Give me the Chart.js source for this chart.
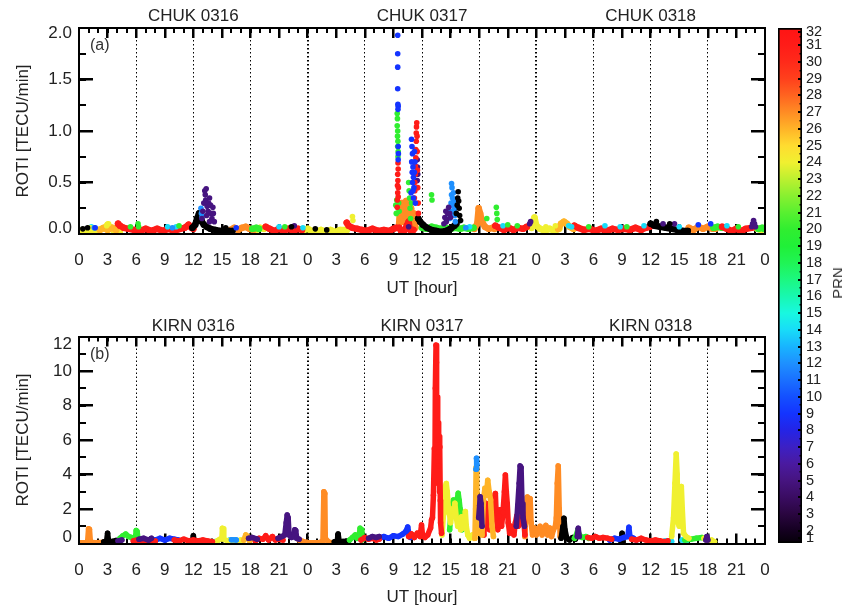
<!DOCTYPE html>
<html>
<head>
<meta charset="utf-8">
<script src="https://cdn.jsdelivr.net/npm/chart.js@4.4.1/dist/chart.umd.min.js"></script>
<style>
body { margin: 0; background: #fff; }
#wrap { position: relative; width: 842px; height: 610px; overflow: hidden; }
canvas { position: absolute; }
.lab { position: absolute; font: 16px "Liberation Sans", Arial, sans-serif; line-height: 18px; color: #333; }
#prn { left: 838px; top: 283px; font-size: 15px; transform: translate(-50%, -50%) rotate(-90deg); }
</style>
</head>
<body>
<div id="wrap">
  <canvas id="chuk" width="842" height="300" style="left:0;top:0"></canvas>
  <canvas id="kirn" width="842" height="310" style="left:0;top:300px"></canvas>
  <canvas id="cbar" width="72" height="610" style="left:770px;top:0"></canvas>
  <div class="lab" style="left:90px;top:36px">(a)</div>
  <div class="lab" style="left:90px;top:345px">(b)</div>
  <div class="lab" id="prn">PRN</div>
</div>
<script>
// ---- tick labels ----
var xTickVals = [0, 3, 6, 9, 12, 15, 18, 21, 24, 27, 30, 33, 36, 39, 42, 45, 48, 51, 54, 57, 60, 63, 66, 69, 72];
var xTickLabels = ['0', '3', '6', '9', '12', '15', '18', '21', '0', '3', '6', '9', '12', '15', '18', '21', '0', '3', '6', '9', '12', '15', '18', '21', '0'];
var dayCentres = [12, 36, 60];
var chukDays = ['CHUK 0316', 'CHUK 0317', 'CHUK 0318'];
var kirnDays = ['KIRN 0316', 'KIRN 0317', 'KIRN 0318'];
var chukYTickVals = [0.058, 0.5, 1.0, 1.5, 1.947];
var chukYTickLabels = ['0.0', '0.5', '1.0', '1.5', '2.0'];
var kirnYTickVals = [0.38, 2, 4, 6, 8, 10, 11.55];
var kirnYTickLabels = ['0', '2', '4', '6', '8', '10', '12'];
var cbTickVals = [1.57, 2, 3, 4, 5, 6, 7, 8, 9, 10, 11, 12, 13, 14, 15, 16, 17, 18, 19, 20, 21, 22, 23, 24, 25, 26, 27, 28, 29, 30, 31, 31.8];
var cbTickLabels = ['1', '2', '3', '4', '5', '6', '7', '8', '9', '10', '11', '12', '13', '14', '15', '16', '17', '18', '19', '20', '21', '22', '23', '24', '25', '26', '27', '28', '29', '30', '31', '32'];

// ---- CHUK ROTI, [UT hour from 0316 00UT, ROTI]; null breaks an arc ----
var chukP24 = [[0, 0.02], [0.4, 0.04], [0.8, 0.02], [1.2, 0.04], [1.6, 0.02], [2.0, 0.04], [2.4, 0.05], [2.8, 0.06], [3.0, 0.09], [3.2, 0.07], [3.6, 0.04], [4.1, 0.03], [4.3, 0.03], [4.3, null],
  [18.6, 0.04], [19.0, 0.06], [19.4, 0.05], [19.6, null],
  [23.6, 0.04], [24.0, 0.05], [24.4, 0.03], [24.9, 0.02], [25.4, 0.04], [25.9, 0.02], [26.4, 0.04], [26.9, 0.02], [27.4, 0.04], [27.9, 0.04], [28.1, 0.04], [28.1, null],
  [47.5, 0.06], [47.7, 0.12], [47.8, 0.16], [48.0, 0.08], [48.4, 0.05], [48.9, 0.03], [49.4, 0.05], [49.9, 0.03], [50.4, 0.05], [50.4, null],
  [71.2, 0.05], [71.6, 0.04], [72, 0.06]];
var chukP24dots = [[28.7, 0.17], [28.75, 0.13], [1.2, 0.06], [3.1, 0.1], [2.9, 0.08], [49.0, 0.07], [50.0, 0.08]];
var chukP26 = [[2.2, 0.04], [2.6, 0.06], [3.0, 0.04], [3.5, 0.06], [3.9, 0.04], [3.9, null],
  [50.3, 0.05], [50.6, 0.1], [50.9, 0.12], [51.2, 0.1], [51.5, 0.07], [51.9, 0.05]];
var chukP27 = [[15.9, 0.04], [16.3, 0.06], [16.7, 0.04], [17.1, 0.06], [17.5, 0.07], [17.9, 0.05], [18.3, 0.04], [18.3, null],
  [33.6, 0.1], [33.7, 0.25], [33.8, 0.15], [33.9, 0.3], [34.0, 0.12], [34.1, 0.28], [34.2, 0.18], [34.35, 0.32], [34.5, 0.2], [34.6, 0.3], [34.7, 0.12], [34.85, 0.25], [35.0, 0.1], [35.15, 0.2], [35.3, 0.06], [35.3, null],
  [41.5, 0.05], [41.8, 0.1], [41.95, 0.25], [42.1, 0.2], [42.3, 0.12], [42.6, 0.07], [43.0, 0.05], [43.4, 0.06], [43.6, 0.05], [43.6, null],
  [64.0, 0.06], [64.5, 0.04], [65.0, 0.07], [65.5, 0.05], [66.0, 0.07], [66.5, 0.05], [66.8, 0.05]];
var chukP20 = [[36.0, 0.06], [36.5, 0.05], [37.0, 0.07], [37.5, 0.06], [38.0, 0.05], [38.5, 0.06], [39.0, 0.05], [39.5, 0.06], [40.0, 0.05], [40.4, 0.06], [40.9, 0.05], [41.4, 0.06], [41.4, null],
  [18.2, 0.05], [18.6, 0.06], [18.9, 0.05], [18.9, null],
  [66.6, 0.06], [67.0, 0.07], [67.5, 0.06], [67.5, null],
  [71.3, 0.05], [71.7, 0.06], [71.9, 0.05]];
var chukP31 = [[4.1, 0.1], [4.3, 0.08], [4.7, 0.06], [5.2, 0.05], [5.8, 0.04], [6.4, 0.03], [7.0, 0.05], [7.6, 0.03], [8.2, 0.05], [8.8, 0.03], [9.4, 0.05], [10.0, 0.03], [10.6, 0.05], [11.1, 0.06], [11.5, 0.09], [11.8, 0.06], [12.0, 0.05], [12.0, null],
  [19.6, 0.07], [20.0, 0.05], [20.5, 0.03], [21.0, 0.05], [21.5, 0.03], [22.0, 0.05], [22.5, 0.03], [23.0, 0.05], [23.4, 0.04], [23.4, null],
  [28.1, 0.11], [28.3, 0.08], [28.7, 0.06], [29.2, 0.05], [29.7, 0.04], [30.2, 0.03], [30.8, 0.05], [31.4, 0.03], [32.0, 0.04], [32.6, 0.03], [33.0, 0.05], [33.3, 0.06], [33.3, null],
  [33.6, 0.06], [33.8, 0.03], [34.0, 0.02], [34.2, 0.04], [34.4, 0.08], [34.6, 0.12], [34.7, 0.05], [34.9, 0.02], [35.1, 0.04], [35.1, null],
  [43.7, 0.08], [44.1, 0.06], [44.6, 0.04], [45.1, 0.06], [45.6, 0.04], [46.1, 0.06], [46.6, 0.05], [47.0, 0.07], [47.0, null],
  [52.0, 0.08], [52.4, 0.06], [53.0, 0.04], [53.6, 0.05], [54.2, 0.03], [54.8, 0.05], [55.4, 0.03], [56.0, 0.05], [56.6, 0.04], [57.2, 0.05], [57.8, 0.04], [58.4, 0.06], [59.0, 0.04], [59.5, 0.06], [59.9, 0.07], [59.9, null],
  [67.5, 0.07], [68.0, 0.05], [68.5, 0.03], [69.0, 0.05], [69.5, 0.03], [70.0, 0.05], [70.6, 0.06]];
var chukP1 = [[11.9, 0.06], [12.2, 0.09], [12.4, 0.15], [12.6, 0.2], [12.75, 0.17], [12.9, 0.12], [13.1, 0.09], [13.4, 0.07], [13.8, 0.05], [14.3, 0.04], [14.8, 0.03], [15.3, 0.03], [15.8, 0.03], [16.1, 0.03], [16.1, null],
  [35.6, 0.15], [35.8, 0.12], [36.1, 0.09], [36.5, 0.06], [37.0, 0.04], [37.5, 0.03], [38.0, 0.02], [38.5, 0.03], [39.0, 0.05], [39.4, 0.08], [39.6, 0.1], [39.6, null],
  [60.0, 0.1], [60.4, 0.08], [61.0, 0.07], [61.6, 0.06], [62.2, 0.05], [62.8, 0.04], [63.4, 0.03], [63.9, 0.03]];
var chukP14dots = [[1.3, 0.07], [9.3, 0.07], [10.2, 0.07], [21.0, 0.07], [23.5, 0.06], [41.0, 0.07], [44.5, 0.08], [51.4, 0.08], [51.7, 0.07], [55.2, 0.08], [56.8, 0.07], [59.3, 0.08], [63.0, 0.07], [68.0, 0.08]];
var chukP20dots = [[33.4, 1.17], [33.42, 1.12], [33.4, 1.05], [33.45, 1.0], [33.43, 0.95], [33.47, 0.9], [33.45, 0.85], [33.5, 0.8], [33.48, 0.75], [33.55, 0.3], [33.3, 0.2], [33.25, 0.28], [33.35, 0.33], [33.6, 0.22],
  [34.6, 0.5], [34.65, 0.42], [34.7, 0.35], [34.75, 0.25], [34.8, 0.15], [34.9, 0.3],
  [37.0, 0.38], [37.05, 0.33], [43.8, 0.26], [43.85, 0.2], [43.9, 0.14], [6.2, 0.1], [6.25, 0.07], [42.8, 0.15],
  [5.4, 0.07], [10.5, 0.08], [21.6, 0.07], [45.0, 0.09], [46.0, 0.08], [53.5, 0.07], [57.5, 0.07], [69.2, 0.07]];
var chukP12dots = [[12.8, 0.25], [12.85, 0.2], [12.9, 0.16],
  [38.9, 0.15], [39.0, 0.22], [39.05, 0.3], [39.1, 0.38], [39.15, 0.45], [39.1, 0.49], [39.2, 0.35], [39.25, 0.28], [39.3, 0.4], [39.35, 0.32], [39.4, 0.24], [39.45, 0.18], [39.5, 0.12], [39.2, 0.2],
  [1.6, 0.06], [9.8, 0.06], [40.6, 0.06]];
var chukP5dots = [[12.9, 0.15], [13.0, 0.22], [13.1, 0.3], [13.2, 0.42], [13.25, 0.38], [13.35, 0.44], [13.3, 0.33], [13.45, 0.27], [13.55, 0.22], [13.6, 0.3], [13.7, 0.35], [13.8, 0.28], [13.85, 0.2], [13.95, 0.15], [14.05, 0.26], [14.1, 0.2], [14.2, 0.12], [13.4, 0.18], [13.7, 0.12],
  [35.5, 0.72], [35.52, 0.65], [35.55, 0.58], [35.5, 0.52],
  [38.3, 0.1], [38.4, 0.16], [38.5, 0.22], [38.6, 0.14], [38.7, 0.2], [38.8, 0.26], [38.9, 0.2], [39.0, 0.16], [38.55, 0.12],
  [47.3, 0.1], [47.4, 0.12], [61.3, 0.1], [62.5, 0.1], [22.6, 0.08], [34.6, 0.07],
  [70.6, 0.07], [70.7, 0.1], [70.8, 0.13], [70.9, 0.1], [71.0, 0.07]];
var chukP1dots = [[39.6, 0.2], [39.7, 0.28], [39.75, 0.35], [39.8, 0.41], [39.85, 0.32], [39.9, 0.25], [39.95, 0.18], [40.05, 0.13],
  [0.9, 0.06], [0.4, 0.05], [22.3, 0.07], [24.8, 0.05], [26.0, 0.04], [15.4, 0.06], [60.6, 0.12], [62.0, 0.1]];
var chukP31dots = [[33.4, 0.26], [33.42, 0.33], [33.45, 0.4], [33.43, 0.47], [33.47, 0.52], [33.45, 0.58], [33.5, 0.63], [33.48, 0.69], [33.52, 0.45], [33.5, 0.36],
  [35.2, 0.35], [35.25, 0.42], [35.25, 0.5], [35.3, 0.58], [35.3, 0.66], [35.35, 0.74], [35.35, 0.82], [35.4, 0.9], [35.4, 0.98], [35.42, 1.04], [35.45, 1.08], [35.48, 0.95], [35.5, 0.8], [35.52, 0.62], [35.55, 0.45], [35.6, 0.3], [35.62, 0.2]];
var chukP9dots = [[33.45, 1.93], [33.45, 1.75], [33.45, 1.62], [33.45, 1.41], [33.47, 1.26], [33.5, 1.24], [33.48, 1.21], [33.5, 0.85], [33.52, 0.78], [33.5, 0.72],
  [34.9, 0.92], [34.95, 0.85], [35.0, 0.78], [34.92, 0.7], [35.05, 0.65], [34.97, 0.6], [35.1, 0.55], [35.0, 0.5], [35.15, 0.45], [35.05, 0.42], [35.2, 0.6], [35.25, 0.7], [35.2, 0.8], [35.1, 0.35], [35.3, 0.3], [34.85, 0.4],
  [65.0, 0.09], [66.3, 0.1], [1.7, 0.06], [16.5, 0.06]];

// ---- KIRN ROTI ----
var kirnP27 = [[0, 0.05], [0.5, 0.04], [0.9, 0.06], [1.0, 0.85], [1.1, 0.82], [1.2, 0.08], [1.7, 0.05], [2.4, 0.06], [2.4, null],
  [23.1, 0.2], [23.5, 0.12], [24.0, 0.06], [24.6, 0.05], [25.2, 0.05], [25.6, 0.15], [25.7, 3.0], [25.8, 2.9], [25.85, 0.3], [26.2, 0.08], [26.6, 0.05], [26.6, null],
  [46.8, 0.4], [46.9, 1.8], [47.05, 2.7], [47.2, 2.4], [47.35, 2.6], [47.45, 1.2], [47.6, 0.5], [47.8, 0.9], [48.0, 0.5], [48.2, 0.7], [48.4, 1.0], [48.6, 0.5], [48.8, 0.7], [49.0, 1.05], [49.2, 0.5], [49.4, 0.9], [49.6, 0.4], [49.8, 0.8], [50.0, 1.0], [50.1, 1.5], [50.2, 3.5], [50.3, 4.5], [50.4, 2.0], [50.5, 0.4]];
var kirnP1 = [[2.6, 0.1], [2.9, 0.15], [3.0, 0.6], [3.1, 0.15], [3.5, 0.12], [3.9, 0.18], [4.3, 0.15], [4.3, null],
  [11.9, 0.1], [12.0, 0.45], [12.1, 0.1], [12.1, null],
  [26.8, 0.1], [27.1, 0.15], [27.2, 0.55], [27.3, 0.15], [27.7, 0.12], [28.3, 0.15], [28.3, null],
  [50.6, 0.3], [50.8, 1.0], [50.9, 1.46], [51.0, 0.8], [51.2, 0.3], [51.5, 0.2], [51.8, 0.35], [52.1, 0.25], [52.1, null],
  [56.9, 0.1], [57.0, 0.6], [57.1, 0.1]];
var kirnP20 = [[4.3, 0.3], [4.6, 0.45], [4.9, 0.55], [5.2, 0.4], [5.5, 0.35], [5.7, 0.3], [5.7, null],
  [5.9, 0.2], [6.0, 0.75], [6.1, 0.7], [6.2, 0.2], [6.2, null],
  [28.4, 0.2], [28.7, 0.35], [29.0, 0.5], [29.2, 0.3], [29.4, 0.4], [29.5, 0.88], [29.6, 0.8], [29.7, 0.2], [29.7, null],
  [38.9, 0.8], [39.05, 1.8], [39.2, 2.3], [39.3, 2.52], [39.4, 2.0], [39.5, 1.6], [39.65, 2.4], [39.8, 2.91], [39.9, 2.5], [40.0, 2.0], [40.1, 1.2], [40.2, 0.8], [40.2, null],
  [52.0, 0.3], [52.2, 0.5], [52.35, 0.78], [52.5, 0.5], [52.8, 0.35], [53.2, 0.4], [53.5, 0.3], [53.5, null],
  [63.6, 0.2], [64.2, 0.25], [64.8, 0.3], [65.4, 0.35], [65.9, 0.25]];
var kirnP31 = [[5.7, 0.15], [6.1, 0.2], [6.5, 0.1], [7.0, 0.2], [7.5, 0.15], [8.0, 0.15], [8.0, null],
  [10.0, 0.2], [10.5, 0.15], [11.0, 0.25], [11.5, 0.15], [12.0, 0.2], [12.5, 0.15], [13.0, 0.2], [13.5, 0.15], [14.0, 0.1], [14.0, null],
  [18.5, 0.15], [18.9, 0.3], [19.3, 0.25], [19.6, 0.45], [19.9, 0.2], [20.3, 0.4], [20.6, 0.2], [21.0, 0.25], [21.4, 0.2], [21.4, null],
  [29.6, 0.2], [30.0, 0.35], [30.4, 0.25], [30.8, 0.3], [31.2, 0.2], [31.5, 0.25], [31.5, null],
  [34.6, 0.4], [34.9, 0.55], [35.2, 0.35], [35.5, 0.6], [35.8, 0.4], [35.95, 1.07], [36.05, 0.5], [36.3, 0.35], [36.6, 0.5], [36.9, 0.9], [37.0, 1.36], [37.1, 1.5], [37.2, 2.8], [37.3, 5.5], [37.35, 3.5], [37.4, 9.0], [37.47, 11.5], [37.52, 10.5], [37.55, 6.0], [37.6, 8.5], [37.65, 5.0], [37.7, 7.0], [37.75, 4.5], [37.8, 6.2], [37.84, 3.0], [37.88, 5.6], [37.92, 2.5], [37.95, 1.2], [38.05, 0.6], [38.05, null],
  [42.5, 0.5], [42.6, 1.5], [42.7, 2.33], [42.8, 1.2], [42.95, 1.8], [43.1, 0.8], [43.25, 1.6], [43.4, 2.0], [43.55, 2.6], [43.7, 2.9], [43.8, 1.5], [43.95, 0.8], [44.1, 1.6], [44.2, 1.96], [44.35, 1.0], [44.5, 1.8], [44.65, 3.0], [44.75, 3.97], [44.85, 3.0], [44.95, 2.3], [45.05, 1.2], [45.2, 0.6], [45.35, 1.0], [45.5, 0.97], [45.65, 0.5], [45.8, 1.2], [45.95, 1.6], [46.1, 1.0], [46.4, 1.4], [46.55, 1.8], [46.7, 1.2], [46.8, 0.5], [46.8, null],
  [53.4, 0.35], [53.8, 0.3], [54.2, 0.4], [54.6, 0.3], [55.0, 0.35], [55.5, 0.3], [55.9, 0.25], [55.9, null],
  [58.0, 0.25], [58.5, 0.2], [59.0, 0.3], [59.5, 0.2], [60.0, 0.15], [60.5, 0.2], [61.0, 0.15], [61.5, 0.1], [61.8, 0.15]];
var kirnP24 = [[14.5, 0.15], [14.8, 0.25], [15.0, 0.3], [15.05, 0.88], [15.15, 0.85], [15.2, 0.25], [15.6, 0.15], [16.0, 0.2], [16.5, 0.15], [17.0, 0.2], [17.2, 0.15], [17.2, null],
  [38.1, 0.5], [38.3, 2.0], [38.45, 3.3], [38.55, 3.48], [38.65, 3.0], [38.8, 1.8], [38.9, 1.65], [39.0, 1.2], [39.15, 2.0], [39.3, 1.6], [39.45, 2.33], [39.6, 1.5], [39.75, 1.0], [39.9, 1.4], [40.05, 0.8], [40.15, 1.55], [40.3, 0.9], [40.45, 1.3], [40.55, 1.85], [40.65, 1.0], [40.8, 0.5], [41.0, 0.3], [41.3, 0.5], [41.5, 0.3], [41.5, null],
  [62.2, 0.4], [62.4, 1.5], [62.55, 3.5], [62.68, 5.19], [62.78, 4.0], [62.88, 1.2], [63.0, 1.0], [63.12, 2.5], [63.22, 3.3], [63.32, 2.0], [63.45, 0.6], [63.7, 0.4], [64.0, 0.3], [64.0, null],
  [65.6, 0.3], [66.0, 0.15], [66.4, 0.2], [66.7, 0.1]];
var kirnP26 = [[17.3, 0.2], [17.5, 0.5], [17.7, 0.4], [17.9, 0.15], [17.9, null],
  [41.55, 0.3], [41.62, 2.0], [41.68, 4.4], [41.75, 3.0], [41.85, 0.6], [41.85, null],
  [42.3, 0.5], [42.45, 2.5], [42.6, 3.2], [42.75, 2.8], [42.9, 3.67], [43.05, 3.0], [43.2, 2.52], [43.35, 1.0], [43.5, 0.4]];
var kirnP12 = [[41.67, 4.3], [41.71, 4.94], [41.76, 4.6], [41.76, null], [16.0, 0.22], [16.5, 0.2]];
var kirnP5 = [[4.1, 0.15], [4.5, 0.2], [4.5, null],
  [6.3, 0.25], [6.8, 0.3], [7.3, 0.2], [7.6, 0.3], [7.6, null],
  [17.8, 0.3], [18.2, 0.35], [18.7, 0.25], [18.7, null],
  [20.9, 0.3], [21.3, 0.4], [21.6, 0.5], [21.75, 1.2], [21.85, 1.65], [21.95, 1.5], [22.05, 0.5], [22.3, 0.35], [22.55, 0.4], [22.65, 0.8], [22.75, 0.75], [22.85, 0.3], [23.1, 0.25], [23.1, null],
  [30.4, 0.3], [30.8, 0.4], [31.2, 0.35], [31.5, 0.4], [31.5, null],
  [41.95, 1.5], [42.05, 2.2], [42.1, 2.71], [42.2, 2.3], [42.3, 1.0], [42.3, null],
  [45.9, 1.0], [46.05, 2.2], [46.2, 3.5], [46.3, 4.5], [46.4, 4.4], [46.5, 2.3], [46.6, 1.5], [46.75, 1.0], [46.75, null],
  [52.3, 0.4], [52.4, 0.88], [52.5, 0.4], [52.5, null],
  [65.8, 0.2], [65.9, 0.4], [66.0, 0.2]];
var kirnP9 = [[7.5, 0.25], [8.0, 0.2], [8.5, 0.3], [9.0, 0.2], [9.5, 0.3], [10.0, 0.25], [10.4, 0.2], [10.4, null],
  [31.5, 0.3], [32.0, 0.4], [32.5, 0.3], [33.0, 0.45], [33.5, 0.4], [34.0, 0.55], [34.3, 0.7], [34.5, 0.95], [34.65, 0.5], [34.8, 0.35], [34.8, null],
  [42.0, 1.8], [42.1, 2.3], [42.2, 1.5], [42.2, null],
  [55.7, 0.2], [56.2, 0.3], [56.7, 0.25], [57.2, 0.35], [57.6, 0.4], [57.72, 0.94], [57.82, 0.4], [58.2, 0.3], [58.5, 0.2]];
var kirnP14 = [[14.0, 0.1], [14.5, 0.12], [14.5, null], [15.8, 0.2], [16.4, 0.22], [16.4, null], [61.5, 0.15], [62.2, 0.12], [62.2, null], [63.3, 0.2], [63.8, 0.18]];

// colour for PRN 1..32 (rainbow table of the colour bar)
var cmap = ['#000000', '#140020', '#2a0640', '#3a0c62', '#461480', '#4a1aa0', '#3c20c4', '#2424e6', '#1434ff', '#1450ff',
  '#1a70ff', '#1e90ff', '#18b4ff', '#18dcf8', '#18f8e0', '#18f8b0', '#1cf880', '#20f455', '#20f038', '#30ee30',
  '#58f030', '#88f030', '#bcf030', '#f0f030', '#ffdc30', '#ffb428', '#ff8c24', '#ff6420', '#ff401c', '#ff2a1a', '#ff1c18', '#ff1414'];

// [PRN, data, drawn as line], back to front
var chukSeries = [[24, chukP24, true], [26, chukP26, true], [27, chukP27, true], [20, chukP20, true], [31, chukP31, true], [1, chukP1, true],
  [14, chukP14dots, false], [20, chukP20dots, false], [24, chukP24dots, false], [12, chukP12dots, false], [5, chukP5dots, false],
  [1, chukP1dots, false], [31, chukP31dots, false], [9, chukP9dots, false]];
var kirnSeries = [[27, kirnP27, true], [1, kirnP1, true], [14, kirnP14, true], [9, kirnP9, true], [20, kirnP20, true], [24, kirnP24, true],
  [31, kirnP31, true], [26, kirnP26, true], [12, kirnP12, true], [5, kirnP5, true]];

Chart.defaults.font.family = '"Liberation Sans", Arial, Helvetica, sans-serif';
Chart.defaults.font.size = 17;
Chart.defaults.color = '#222';

function fixBox(size) {
    return function (scale) {
        if (scale.isHorizontal()) scale.height = size; else scale.width = size;
        scale.paddingLeft = scale.paddingRight = scale.paddingTop = scale.paddingBottom = 0;
    };
}
function setTicks(vals) {
    return function (scale) { scale.ticks = vals.map(function (v) { return { value: v }; }); };
}
function steps(lo, hi, st) {
    var out = [];
    for (var v = lo; v <= hi + 1e-9; v += st) out.push(+v.toFixed(4));
    return out;
}

// IDL style tick marks pointing into the plot, placed with the chart's own scales;
// the frame edges are taken from the axis boxes that draw the frame
function tickMarks(id, hook, marks) {
    var plugin = { id: id };
    plugin[hook] = function (chart) {
        var ctx = chart.ctx, a = chart.chartArea, sc = chart.scales;
        var e = { top: a.top, bottom: a.bottom, left: a.left, right: a.right };
        if (sc.xt) { e.top = sc.xt.bottom; e.bottom = sc.x.top; }
        if (sc.yr) { e.left = sc.y.right; e.right = sc.yr.left; }
        ctx.save();
        ctx.fillStyle = '#000';
        marks.forEach(function (m) {
            var s = sc[m.scale];
            m.values.forEach(function (v) {
                var p = Math.round(s.getPixelForValue(v) - m.width / 2);
                m.sides.forEach(function (side) {
                    if (side === 'bottom') ctx.fillRect(p, e.bottom - m.len, m.width, m.len);
                    else if (side === 'top') ctx.fillRect(p, e.top, m.width, m.len);
                    else if (side === 'left') ctx.fillRect(e.left, p, m.len, m.width);
                    else ctx.fillRect(e.right - m.len, p, m.len, m.width);
                });
            });
        });
        ctx.restore();
    };
    return plugin;
}

function buildSets(series, lineW, dotR) {
    return series.map(function (s, i) {
        var c = cmap[s[0] - 1];
        return {
            data: s[1], showLine: s[2], borderColor: c, backgroundColor: c,
            borderWidth: s[2] ? lineW : 0, pointRadius: s[2] ? lineW / 2 : dotR,
            pointBorderWidth: 0, pointHoverRadius: 0, borderJoinStyle: 'round', borderCapStyle: 'round',
            order: series.length - i
        };
    });
}

function makeScales(p) {
    return {
        x: { type: 'linear', position: 'bottom', min: 0, max: 72,
            afterBuildTicks: setTicks(xTickVals),
            ticks: { autoSkip: false, maxRotation: 0, padding: p.xPad, callback: function (v, i) { return xTickLabels[i]; } },
            grid: { drawOnChartArea: true, drawTicks: false,
                color: function (c) { var v = c.tick ? c.tick.value : 0; return (v % 6 === 0 && v > 0 && v < 72) ? '#000' : 'rgba(0,0,0,0)'; },
                lineWidth: function (c) { var v = c.tick ? c.tick.value : 0; return v % 24 === 0 ? 2 : 1; } },
            border: { width: 2, color: '#000', dash: [1.5, 2.5], z: 1 },
            title: { display: true, text: 'UT [hour]', padding: { top: 0, bottom: p.titlePad } },
            afterFit: fixBox(p.bottomH) },
        xt: { type: 'linear', position: 'top', min: 0, max: 72,
            afterBuildTicks: setTicks(dayCentres),
            ticks: { autoSkip: false, maxRotation: 0, padding: p.dayPad, callback: function (v, i) { return p.days[i]; } },
            grid: { display: false, drawTicks: false },
            border: { width: 2, color: '#000', z: 1 },
            afterFit: fixBox(p.topH) },
        y: { type: 'linear', position: 'left', min: 0, max: p.yMax,
            afterBuildTicks: setTicks(p.yTickVals),
            ticks: { padding: 7, callback: function (v, i) { return p.yTickLabels[i]; } },
            grid: { display: false, drawTicks: false },
            border: { width: 2, color: '#000', z: 1 },
            title: { display: true, text: 'ROTI [TECU/min]', padding: { top: 12.8, bottom: 0 } },
            afterFit: fixBox(79) },
        yr: { type: 'linear', position: 'right', min: 0, max: p.yMax,
            ticks: { display: false },
            grid: { display: false, drawTicks: false },
            border: { width: 2, color: '#000', z: 1 },
            afterFit: fixBox(0) }
    };
}

function panel(id, series, p, lineW, dotR) {
    var under = [
        { scale: 'x', values: steps(3, 69, 3), len: 10, width: 2.5, sides: ['bottom'] },
        { scale: 'x', values: steps(1, 71, 1), len: 5, width: 2, sides: ['bottom'] }
    ];
    var over = [
        { scale: 'x', values: steps(3, 69, 3), len: 10, width: 2.5, sides: ['top'] },
        { scale: 'x', values: steps(1, 71, 1), len: 5, width: 2, sides: ['top'] },
        { scale: 'y', values: steps(p.yMajor, p.yMax - p.yMajor, p.yMajor), len: 14, width: 2.5, sides: ['left', 'right'] },
        { scale: 'y', values: steps(p.yMinor, p.yMax - p.yMinor, p.yMinor), len: 7, width: 2, sides: ['left', 'right'] }
    ];
    return new Chart(document.getElementById(id), {
        type: 'scatter',
        data: { datasets: buildSets(series, lineW, dotR) },
        options: {
            responsive: false, animation: false, devicePixelRatio: 1, events: [],
            layout: { padding: { left: 0, right: 77, top: 0, bottom: 0 } },
            plugins: { legend: { display: false }, tooltip: { enabled: false } },
            scales: makeScales(p)
        },
        plugins: [tickMarks('ticksUnder', 'beforeDatasetsDraw', under), tickMarks('ticksOver', 'afterDraw', over)]
    });
}

panel('chuk', chukSeries, { yMax: 2.0, yMajor: 0.5, yMinor: 0.25, yTickVals: chukYTickVals, yTickLabels: chukYTickLabels,
    days: chukDays, topH: 28, bottomH: 66, dayPad: 1.8, xPad: 15.8, titlePad: 1.8 }, 6.5, 2.8);
panel('kirn', kirnSeries, { yMax: 12, yMajor: 2, yMinor: 1, yTickVals: kirnYTickVals, yTickLabels: kirnYTickLabels,
    days: kirnDays, topH: 36.5, bottomH: 66.5, dayPad: 0, xPad: 16.3, titlePad: 2.8 }, 5.5, 2.5);

// colour bar
var cbMin = 1.27, cbMax = 32.03;
new Chart(document.getElementById('cbar'), {
    type: 'bar',
    data: {
        labels: ['PRN'],
        datasets: [{
            data: [[cbMin, cbMax]],
            barPercentage: 1, categoryPercentage: 1,
            borderColor: '#000', borderWidth: 2, borderSkipped: false,
            backgroundColor: function (c) {
                var chart = c.chart;
                if (!chart.chartArea) return '#000';
                var ys = chart.scales.y;
                var g = chart.ctx.createLinearGradient(0, ys.getPixelForValue(1), 0, ys.getPixelForValue(32));
                cmap.forEach(function (col, i) { g.addColorStop(i / 31, col); });
                return g;
            }
        }]
    },
    options: {
        responsive: false, animation: false, devicePixelRatio: 1, events: [],
        layout: { padding: { left: 8, right: 0, top: 28, bottom: 67 } },
        plugins: { legend: { display: false }, tooltip: { enabled: false } },
        scales: {
            x: { display: false },
            y: { type: 'linear', position: 'right', min: cbMin, max: cbMax,
                afterBuildTicks: setTicks(cbTickVals),
                ticks: { autoSkip: false, padding: 4, font: { size: 14.5 }, callback: function (v, i) { return cbTickLabels[i]; } },
                grid: { display: false, drawTicks: false },
                border: { display: false },
                afterFit: fixBox(40) }
        }
    },
    plugins: [tickMarks('cbTicks', 'afterDatasetsDraw', [
        { scale: 'y', values: cbTickVals, len: 4, width: 2, sides: ['right'] },
        { scale: 'y', values: steps(1.5, 31.5, 1), len: 2.5, width: 1.5, sides: ['right'] }
    ])]
});
</script>
</body>
</html>
